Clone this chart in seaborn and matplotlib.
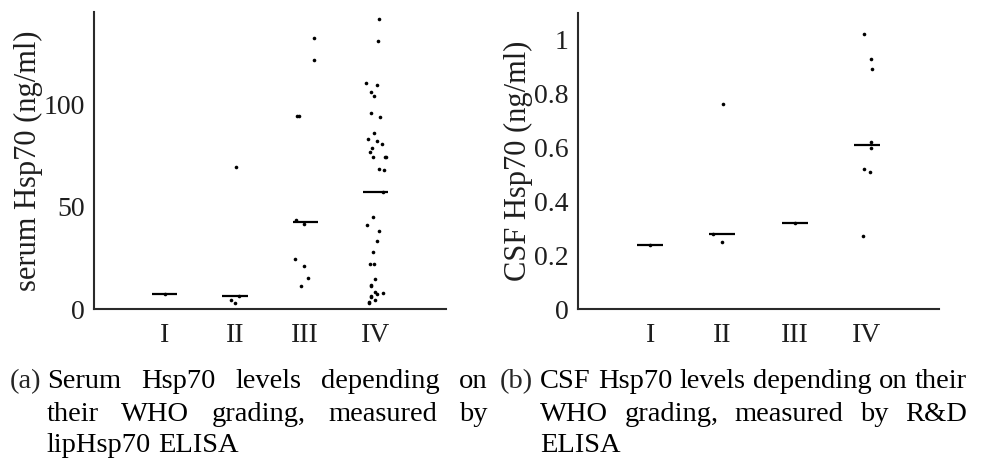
import numpy as np
import pandas as pd
import matplotlib
matplotlib.use("Agg")
import matplotlib.pyplot as plt
import seaborn as sns

# ---------------- data ----------------
grades = ["I", "II", "III", "IV"]

serum_I = [7.5]
serum_II = [69.4, 6.5, 4.5, 3.2]
serum_III = [132.2, 121.6, 94.4, 94.4, 43.4, 41.5, 24.4, 21.0, 15.1, 11.4]
serum_IV = [141.6, 130.5, 110.4, 109.1, 105.7, 104.0, 95.6, 93.5, 85.9, 82.9,
            82.1, 80.5, 78.8, 76.6, 74.1, 74.1, 74.1, 68.3, 67.8, 57.2,
            45.0, 41.3, 38.3, 33.3, 27.8, 22.2, 22.2, 14.8, 11.9, 11.4,
            8.4, 8.1, 7.5, 6.5, 5.9, 4.5, 3.7, 2.9]
serum_medians = [7.5, 6.5, 42.5, 57.2]

csf_I = [0.24]
csf_II = [0.76, 0.28, 0.25]
csf_III = [0.32]
csf_IV = [1.02, 0.93, 0.89, 0.62, 0.60, 0.52, 0.51, 0.27]
csf_medians = [0.24, 0.28, 0.32, 0.61]

serum_ticks = [0, 50, 100]
csf_ticks = [0, 0.2, 0.4, 0.6, 0.8, 1.0]

serum_label = "serum Hsp70 (ng/ml)"
csf_label = "CSF Hsp70 (ng/ml)"

cap_a = [["Serum", "Hsp70", "levels", "depending", "on"],
         ["their", "WHO", "grading,", "measured", "by"],
         ["lipHsp70", "ELISA"]]
cap_b = [["CSF", "Hsp70", "levels", "depending", "on", "their"],
         ["WHO", "grading,", "measured", "by", "R&D"],
         ["ELISA"]]


def long_df(groups):
    rows = []
    for g, vals in zip(grades, groups):
        for v in vals:
            rows.append((g, v))
    return pd.DataFrame(rows, columns=["grade", "value"])


serum_df = long_df([serum_I, serum_II, serum_III, serum_IV])
csf_df = long_df([csf_I, csf_II, csf_III, csf_IV])

# ---------------- style ----------------
sns.set_theme(style="white")
plt.rcParams["font.family"] = ["Liberation Serif", "DejaVu Serif"]
np.random.seed(3)

W, H = 987, 458
fig = plt.figure(figsize=(W / 100, H / 100), dpi=100)

spine_col = "#2a2a2a"
text_col = "#1e1e1e"


def panel(rect, df, medians, ylim, ticks, label, label_x):
    ax = fig.add_axes(rect)
    sns.stripplot(data=df, x="grade", y="value", order=grades, jitter=0.15,
                  color="black", size=2.6, linewidth=0, ax=ax)
    pos = np.arange(len(grades))
    ax.hlines(medians, pos - 0.18, pos + 0.18, color="black", lw=1.6, zorder=3)
    ax.set_xlim(-1, 4)
    ax.set_ylim(*ylim)
    ax.set_yticks(ticks)
    ax.set_yticklabels(["%g" % t for t in ticks])
    ax.set_xlabel("")
    ax.set_ylabel(label, fontsize=22, color=text_col)
    ax.yaxis.set_label_coords(label_x, 0.5)
    for s in ["top", "right"]:
        ax.spines[s].set_visible(False)
    for s in ["left", "bottom"]:
        ax.spines[s].set_color(spine_col)
        ax.spines[s].set_linewidth(1.5)
    ax.tick_params(axis="both", direction="in", length=3.5, width=1.2,
                   color=spine_col, labelsize=20, labelcolor=text_col)
    ax.tick_params(axis="x", pad=10)
    ax.tick_params(axis="y", pad=7)
    ax.patch.set_alpha(0)
    return ax


ax1 = panel([94.3 / W, 1 - 309.3 / H, (446 - 94.3) / W, (309.3 - 11.7) / H],
            serum_df, serum_medians, (0, 145), serum_ticks, serum_label, -0.146)
ax2 = panel([578 / W, 1 - 309.3 / H, (939 - 578) / W, (309.3 - 12.7) / H],
            csf_df, csf_medians, (0, 1.1), csf_ticks, csf_label, -0.125)

# ---------------- captions ----------------
renderer = fig.canvas.get_renderer()
cap_size = 20.5
baselines = [388.3, 421.0, 451.7]


def put_line(words, x0, x1, yb, justify=True):
    texts = [fig.text(0, 1 - yb / H, w, fontsize=cap_size, color="black",
                      ha="left", va="baseline") for w in words]
    widths = [t.get_window_extent(renderer).width for t in texts]
    if justify and len(words) > 1:
        gap = (x1 - x0 - sum(widths)) / (len(words) - 1)
    else:
        sp = fig.text(0, 0, "a a", fontsize=cap_size)
        sp2 = fig.text(0, 0, "aa", fontsize=cap_size)
        gap = sp.get_window_extent(renderer).width - sp2.get_window_extent(renderer).width
        sp.remove(); sp2.remove()
    x = x0
    for t, w in zip(texts, widths):
        t.set_x(x / W)
        x += w + gap


fig.text(10 / W, 1 - baselines[0] / H, "(a)", fontsize=cap_size, ha="left", va="baseline")
fig.text(500 / W, 1 - baselines[0] / H, "(b)", fontsize=cap_size, ha="left", va="baseline")
for i, line in enumerate(cap_a):
    put_line(line, 46.7, 488, baselines[i], justify=(i < len(cap_a) - 1))
for i, line in enumerate(cap_b):
    put_line(line, 540, 967, baselines[i], justify=(i < len(cap_b) - 1))

fig.savefig("out.png", dpi=100)
